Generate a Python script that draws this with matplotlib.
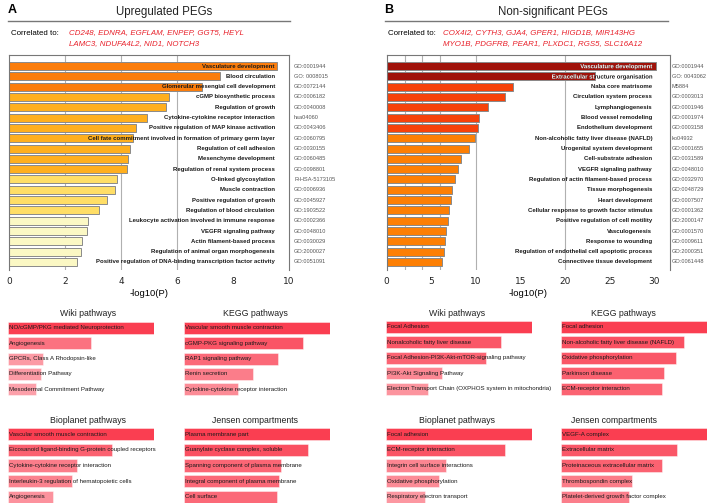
import matplotlib
matplotlib.use('Agg')
import matplotlib.pyplot as plt
import matplotlib.transforms as mtrans
from matplotlib.textpath import TextPath
from matplotlib.patches import PathPatch
from matplotlib.font_manager import FontProperties

plt.rcParams['font.family'] = ['Liberation Sans', 'DejaVu Sans']

W, H = 709, 503

# ---- panel A main enrichment ----
a_terms = ["Vasculature development", "Blood circulation", "Glomerular mesengial cell development",
	"cGMP biosynthetic process", "Regulation of growth", "Cytokine-cytokine receptor interaction",
	"Positive regulation of MAP kinase activation", "Cell fate commitment involved in formation of primary germ layer",
	"Regulation of cell adhesion", "Mesenchyme development", "Regulation of renal system process",
	"O-linked glycosylation", "Muscle contraction", "Positive regulation of growth",
	"Regulation of blood circulation", "Leukocyte activation involved in immune response",
	"VEGFR signaling pathway", "Actin filament-based process", "Regulation of animal organ morphogenesis",
	"Positive regulation of DNA-binding transcription factor activity"]
a_ids = ["GO:0001944", "GO: 0008015", "GO:0072144", "GO:0006182", "GO:0040008", "hsa04060",
	"GO:0043406", "GO:0060795", "GO:0030155", "GO:0060485", "GO:0098801", "R-HSA-5173105",
	"GO:0006936", "GO:0045927", "GO:1903522", "GO:0002366", "GO:0048010", "GO:0030029",
	"GO:2000027", "GO:0051091"]
a_vals = [9.57, 7.54, 6.9, 5.7, 5.6, 4.94, 4.52, 4.42, 4.31, 4.26, 4.22, 3.87, 3.79, 3.49,
	3.21, 2.83, 2.8, 2.62, 2.58, 2.44]
a_colors = ['#fb7d0c'] * 3 + ['#ffaf1e'] * 8 + ['#ffde66'] * 4 + ['#fbf8c4'] * 5
a_genes = ["CD248, EDNRA, EGFLAM, ENPEP, GGT5, HEYL", "LAMC3, NDUFA4L2, NID1, NOTCH3"]

# ---- panel B main enrichment ----
b_terms = ["Vasculature development", "Extracellular structure organisation", "Naba core matrisome",
	"Circulation system process", "Lymphangiogenesis", "Blood vessel remodeling",
	"Endothelium development", "Non-alcoholic fatty liver disease (NAFLD)",
	"Urogenital system development", "Cell-substrate adhesion", "VEGFR signaling pathway",
	"Regulation of actin filament-based process", "Tissue morphogenesis", "Heart development",
	"Cellular response to growth factor stimulus", "Positive regulation of cell motility",
	"Vasculogenesis", "Response to wounding", "Regulation of endothelial cell apoptotic process",
	"Connectivee tissue development"]
b_ids = ["GO:0001944", "GO: 0043062", "M5884", "GO:0003013", "GO:0001946", "GO:0001974",
	"GO:0003158", "ko04932", "GO:0001655", "GO:0031589", "GO:0048010", "GO:0032970",
	"GO:0048729", "GO:0007507", "GO:0001362", "GO:2000147", "GO:0001570", "GO:0009611",
	"GO:2000351", "GO:0061448"]
b_vals = [30.2, 23.35, 14.1, 13.3, 11.3, 10.3, 10.2, 9.94, 9.19, 8.37, 7.99, 7.7, 7.28, 7.17,
	6.99, 6.84, 6.65, 6.54, 6.43, 6.2]
b_colors = ['#a0120a'] * 2 + ['#f6420a'] * 5 + ['#fd7f04'] * 13
b_genes = ["COX4I2, CYTH3, GJA4, GPER1, HIGD1B, MIR143HG", "MYO1B, PDGFRB, PEAR1, PLXDC1, RGS5, SLC16A12"]

# ---- small library panels ----
a_wiki = ["NO/cGMP/PKG mediated Neuroprotection", "Angiogenesis", "GPCRs, Class A Rhodopsin-like",
	"Differentiation Pathway", "Mesodermal Commitment Pathway"]
a_wiki_v = [9.98, 5.64, 2.4, 2.24, 1.87]
a_kegg = ["Vascular smooth muscle contraction", "cGMP-PKG signaling pathway", "RAP1 signaling pathway",
	"Renin secretion", "Cytokine-cytokine receptor interaction"]
a_kegg_v = [10.0, 8.15, 6.42, 4.73, 3.65]
a_bio = ["Vascular smooth muscle contraction", "Eicosanoid ligand-binding G-protein coupled receptors",
	"Cytokine-cytokine receptor interaction", "Interleukin-3 regulation of hematopoietic cells", "Angiogenesis"]
a_bio_v = [9.98, 7.08, 4.73, 4.36, 3.08]
a_jen = ["Plasma membrane part", "Guanylate cyclase complex, soluble", "Spanning component of plasma membrane",
	"Integral component of plasma membrane", "Cell surface"]
a_jen_v = [10.0, 8.49, 6.62, 6.51, 6.37]
b_wiki = ["Focal Adhesion", "Nonalcoholic fatty liver disease", "Focal Adhesion-PI3K-Akt-mTOR-signaling pathway",
	"PI3K-Akt Signaling Pathway", "Electron Transport Chain (OXPHOS system in mitochondria)"]
b_wiki_v = [10.0, 7.9, 6.87, 3.86, 2.9]
b_kegg = ["Focal adhesion", "Non-alcoholic fatty liver disease (NAFLD)", "Oxidative phosphorylation",
	"Parkinson disease", "ECM-receptor interaction"]
b_kegg_v = [10.0, 8.42, 7.88, 7.1, 6.92]
b_bio = ["Focal adhesion", "ECM-receptor interaction", "Integrin cell surface interactions",
	"Oxidative phosphorylation", "Respiratory electron transport"]
b_bio_v = [10.0, 8.15, 4.13, 3.63, 2.67]
b_jen = ["VEGF-A complex", "Extracellular matrix", "Proteinaceous extracellular matrix",
	"Thrombospondin complex", "Platelet-derived growth factor complex"]
b_jen_v = [10.0, 7.97, 6.96, 4.86, 4.68]


def box(x0, y0, x1, y1):
	return [x0 / W, 1 - y1 / H, (x1 - x0) / W, (y1 - y0) / H]

def fx(x):
	return x / W

def fy(y):
	return 1 - y / H


fig = plt.figure(figsize=(W / 100, H / 100), dpi=100)
boldProp = FontProperties(family='Liberation Sans', weight='bold', size=4.3)


def header(letter, title, lx, tx, x0, x1, genes, gx):
	fig.text(fx(lx), fy(10), letter, fontsize=9, fontweight='bold', ha='left', va='center')
	fig.text(fx(tx), fy(12), title, fontsize=8.3, ha='center', va='center', color='#222222')
	fig.add_artist(plt.Line2D([fx(x0), fx(x1)], [fy(21), fy(21)], color='#777777', lw=1.0))
	fig.text(fx(x0 + 3), fy(33), "Correlated to:", fontsize=5.7, ha='left', va='center')
	fig.text(fx(gx), fy(33), genes[0], fontsize=5.7, style='italic', color='#e8202a', ha='left', va='center')
	fig.text(fx(gx), fy(43.5), genes[1], fontsize=5.7, style='italic', color='#e8202a', ha='left', va='center')


def pathLabel(ax, x, y, text, color, clip=None):
	# label drawn as a path so it can be clipped to a bar
	tp = TextPath((0, 0), text, prop=boldProp)
	bb = tp.get_extents()
	px, py = ax.transData.transform((x, y))
	tr = mtrans.Affine2D().translate(-bb.x1, -1.6).scale(fig.dpi / 72.0).translate(px, py)
	pp = PathPatch(tp, transform=tr, facecolor=color, edgecolor='none', zorder=4)
	ax.add_patch(pp)
	if clip is not None:
		pp.set_clip_path(clip)
	return pp


def mainPlot(rect, terms, ids, vals, colors, xmax, grid, ticks, labx, idx, nWhite):
	ax = fig.add_axes(rect)
	ax.set_xlim(0, xmax)
	ax.set_ylim(19.78, -1.07)
	n = len(terms)
	pos = list(range(n))
	for g in grid:
		ax.axvline(g, color='#b0b0b0', lw=0.8, zorder=0)
	bars = ax.barh(pos, vals, height=0.78, color=colors, edgecolor='#8a8a8a', linewidth=0.7, zorder=2)
	for i in range(n):
		if i < nWhite:
			pathLabel(ax, labx, i, terms[i], '#1a1a1a')
			pathLabel(ax, labx, i, terms[i], 'white', bars[i])
		else:
			ax.text(labx, i, terms[i], ha='right', va='center', fontsize=4.3, fontweight='bold', color='#1a1a1a', zorder=3)
		ax.text(idx, i, ids[i], ha='left', va='center', fontsize=4.1, color='#555555',
			transform=ax.get_yaxis_transform(), clip_on=False)
	ax.set_xlim(0, xmax)
	ax.set_ylim(19.78, -1.07)
	ax.set_yticks([])
	ax.set_xticks(ticks)
	ax.set_xticklabels([str(t) for t in ticks], family='DejaVu Sans', fontsize=6.5, color='#222222')
	ax.tick_params(axis='x', length=0, pad=5)
	ax.set_xlabel('-log10(P)', fontsize=6.8, labelpad=2)
	ax.spines['bottom'].set_visible(False)
	for s in ['left', 'right', 'top']:
		ax.spines[s].set_color('#777777')
		ax.spines[s].set_linewidth(0.8)
	return ax


def smallPlot(x0, title, tx, ty, rows, names, vals):
	y0 = rows[0] - 7.7
	y1 = rows[-1] + 7.7
	ax = fig.add_axes(box(x0, y0, x0 + 146, y1))
	pos = list(range(len(names)))
	cols = [(0.98, 0.2, 0.28, 0.35 + 0.6 * v / 10.0) for v in vals]
	ax.barh(pos, vals, height=0.78, color=cols, edgecolor=(1, 1, 1, 0.6), linewidth=0.5)
	for i in range(len(names)):
		ax.text(0.08, i, names[i], ha='left', va='center', fontsize=4.4, color='#1a1a1a', clip_on=False)
	ax.set_xlim(0, 10)
	ax.set_ylim(4.5, -0.5)
	ax.axis('off')
	fig.text(fx(tx), fy(ty), title, fontsize=6.3, ha='center', va='center', color='#222222')


header("A", "Upregulated PEGs", 8, 164, 8, 290, a_genes, 69)
header("B", "Non-significant PEGs", 384, 553, 385, 668, b_genes, 443)

mainPlot(box(9, 55, 289, 270), a_terms, a_ids, a_vals, a_colors, 10, [2, 4, 6],
	[0, 2, 4, 6, 8, 10], 9.5, 1.018, 0)
mainPlot(box(386.7, 55, 669.7, 270), b_terms, b_ids, b_vals, b_colors, 31.7, [2, 4, 6, 10, 20],
	[0, 5, 10, 15, 20, 25, 30], 29.74, 1.008, 2)

rowsA1 = [328, 343.7, 359, 374, 389.3]
rowsA2 = [434.3, 450.7, 466, 481, 496.7]
rowsB1 = [326.7, 342.7, 358.3, 373.3, 389]
rowsB2 = [434.3, 450, 465.7, 480.7, 496.7]

smallPlot(8.3, "Wiki pathways", 88, 314, rowsA1, a_wiki, a_wiki_v)
smallPlot(184.3, "KEGG pathways", 255, 314, rowsA1, a_kegg, a_kegg_v)
smallPlot(8.3, "Bioplanet pathways", 88, 420.7, rowsA2, a_bio, a_bio_v)
smallPlot(184.3, "Jensen compartments", 255, 420.7, rowsA2, a_jen, a_jen_v)
smallPlot(385.7, "Wiki pathways", 456.7, 313.3, rowsB1, b_wiki, b_wiki_v)
smallPlot(560.7, "KEGG pathways", 623.3, 313.3, rowsB1, b_kegg, b_kegg_v)
smallPlot(385.7, "Bioplanet pathways", 456.7, 420.7, rowsB2, b_bio, b_bio_v)
smallPlot(560.7, "Jensen compartments", 613.7, 420.7, rowsB2, b_jen, b_jen_v)

fig.savefig('out.png', dpi=100)
